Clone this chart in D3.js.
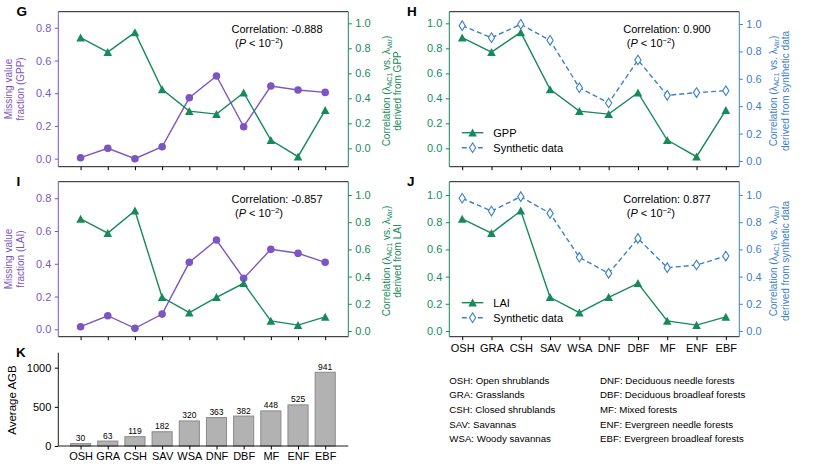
<!DOCTYPE html>
<html>
<head>
<meta charset="utf-8">
<script src="https://cdn.jsdelivr.net/npm/d3@7"></script>
<style>
  body { margin: 0; background: #fff; }
  svg { font-family: "Liberation Sans", Arial, sans-serif; }
</style>
</head>
<body>
<div id="graph"></div>
<script>
var w = 816, h = 472

var cats = ["OSH", "GRA", "CSH", "SAV", "WSA", "DNF", "DBF", "MF", "ENF", "EBF"]
var missGPP = [0.006, 0.063, 0.0, 0.073, 0.372, 0.505, 0.195, 0.444, 0.42, 0.405]
var corrGPP = [0.885, 0.77, 0.928, 0.472, 0.298, 0.274, 0.445, 0.066, -0.067, 0.306]
var synthGPP = [0.988, 0.90, 0.998, 0.881, 0.535, 0.423, 0.737, 0.479, 0.499, 0.513]
var missLAI = [0.016, 0.083, 0.006, 0.093, 0.409, 0.545, 0.311, 0.488, 0.464, 0.409]
var corrLAI = [0.824, 0.72, 0.884, 0.248, 0.135, 0.248, 0.351, 0.074, 0.043, 0.104]
var synthLAI = [0.976, 0.882, 0.988, 0.865, 0.542, 0.424, 0.681, 0.466, 0.485, 0.551]
var agb = [30, 63, 119, 182, 320, 363, 382, 448, 525, 941]
var legendLeft = ["OSH: Open shrublands", "GRA: Grasslands", "CSH: Closed shrublands", "SAV: Savannas", "WSA: Woody savannas"]
var legendRight = ["DNF: Deciduous needle forests", "DBF: Deciduous broadleaf forests", "MF: Mixed forests", "ENF: Evergreen needle forests", "EBF: Evergreen broadleaf forests"]

var purple = "#7d55c0", green = "#178a5b", blue = "#3c80c7"

var svg = d3.select('#graph')
  .html('')
  .append('svg')
  .attr("width", w)
  .attr("height", h)

var triPath = "M0,-4.2L4.3,3.8L-4.3,3.8Z"
var diaPath = "M0,-4.8L3.1,0L0,4.8L-3.1,0Z"

function marker(g, kind, color) {
  if (kind == 'circle') {
    g.append("circle").attr("r", 3.8).attr("fill", color)
  } else if (kind == 'tri') {
    g.append("path").attr("d", triPath).attr("fill", color)
  } else {
    g.append("path").attr("d", diaPath).attr("fill", "#fff")
      .attr("stroke", color).attr("stroke-width", 1.1)
  }
}

function series(x, y, vals, color, kind, dashed) {
  var line = d3.line().x((d, i) => x(i)).y(d => y(d))
  svg.append("path")
    .attr("d", line(vals))
    .attr("fill", "none")
    .attr("stroke", color)
    .attr("stroke-width", 1.4)
    .attr("stroke-dasharray", dashed ? "5,3" : null)
  vals.forEach(function(v, i) {
    var g = svg.append("g").attr("transform", "translate(" + x(i) + "," + y(v) + ")")
    marker(g, kind, color)
  })
}

function styleAxis(g, color) {
  g.selectAll("path").remove()
  g.selectAll("line").attr("stroke", color)
  g.selectAll("text").attr("fill", color).style("font-size", "11px")
}

function corrLabel(sub) {
  return function(t) {
    t.append("tspan").text("Correlation (λ")
    t.append("tspan").attr("dy", 2).style("font-size", "7px").text("AC1")
    t.append("tspan").attr("dy", -2).text(" vs. λ")
    t.append("tspan").attr("dy", 2).style("font-size", "7px").text("Var")
    t.append("tspan").attr("dy", -2).text(")")
  }
}

function vlabel(x, y, color, size, fill) {
  var t = svg.append("text")
    .attr("transform", "translate(" + x + "," + y + ") rotate(-90)")
    .attr("text-anchor", "middle")
    .attr("fill", color)
    .style("font-size", size + "px")
  if (typeof fill == 'function') fill(t); else t.text(fill)
  return t
}

// o: x0,x1,y0,y1,xdom,left,right,xlabels,corr
function panel(o) {
  var x = d3.scaleLinear().domain(o.xdom).range([o.x0, o.x1])
  var yl = d3.scaleLinear().domain(o.left.dom).range([o.y1, o.y0])
  var yr = d3.scaleLinear().domain(o.right.dom).range([o.y1, o.y0])

  var xa = svg.append("g").attr("transform", "translate(0," + o.y1 + ")")
    .call(d3.axisBottom(x).tickValues(d3.range(10)).tickSize(3.5).tickPadding(4)
      .tickFormat(i => o.xlabels ? cats[i] : ""))
  styleAxis(xa, "#000")

  var la = svg.append("g").attr("transform", "translate(" + o.x0 + ",0)")
    .call(d3.axisLeft(yl).tickValues(o.left.ticks).tickSize(3.5).tickPadding(3.5).tickFormat(d3.format(".1f")))
  styleAxis(la, o.left.color)
  var ra = svg.append("g").attr("transform", "translate(" + o.x1 + ",0)")
    .call(d3.axisRight(yr).tickValues(o.right.ticks).tickSize(3.5).tickPadding(3.5).tickFormat(d3.format(".1f")))
  styleAxis(ra, o.right.color)

  series(x, yl, o.left.vals, o.left.color, o.left.kind, o.left.dashed)
  series(x, yr, o.right.vals, o.right.color, o.right.kind, o.right.dashed)

  // frame
  svg.append("line").attr("x1", o.x0).attr("x2", o.x1).attr("y1", o.y0).attr("y2", o.y0).attr("stroke", "#000").attr("stroke-width", 0.9)
  svg.append("line").attr("x1", o.x0).attr("x2", o.x1).attr("y1", o.y1).attr("y2", o.y1).attr("stroke", "#000").attr("stroke-width", 0.9)
  svg.append("line").attr("x1", o.x0).attr("x2", o.x0).attr("y1", o.y0).attr("y2", o.y1).attr("stroke", o.left.color).attr("stroke-width", 1)
  svg.append("line").attr("x1", o.x1).attr("x2", o.x1).attr("y1", o.y0).attr("y2", o.y1).attr("stroke", o.right.color).attr("stroke-width", 1)

  // correlation note
  var cx = o.corrX
  svg.append("text").attr("x", cx).attr("y", o.y0 + 21.5).style("font-size", "11px").text(o.corr)
  var p = svg.append("text").attr("x", cx + 3.5).attr("y", o.y0 + 35.5).style("font-size", "11px")
  p.append("tspan").text("(")
  p.append("tspan").style("font-style", "italic").text("P")
  p.append("tspan").text(" < 10")
  p.append("tspan").attr("dy", -4.5).style("font-size", "7.5px").text("−2")
  p.append("tspan").attr("dy", 4.5).text(")")

  svg.append("text").attr("x", o.lx).attr("y", o.y0 + 4).style("font-size", "13.5px")
    .style("font-weight", "bold").text(o.letter)

  if (o.legend) {
    o.legend.forEach(function(d, i) {
      var ly = o.y0 + 121 + i * 15
      var lx = o.x0 + 12.5
      svg.append("line").attr("x1", lx).attr("x2", lx + 21.5).attr("y1", ly).attr("y2", ly)
        .attr("stroke", d.color).attr("stroke-width", 1.4).attr("stroke-dasharray", d.dashed ? "5,3" : null)
      marker(svg.append("g").attr("transform", "translate(" + (lx + 10.8) + "," + ly + ")"), d.kind, d.color)
      svg.append("text").attr("x", lx + 31.5).attr("y", ly + 4).style("font-size", "11px").text(d.name)
    })
  }
  return {x: x}
}

var t02 = [0, 0.2, 0.4, 0.6, 0.8]
var t10 = [0, 0.2, 0.4, 0.6, 0.8, 1.0]

// G
panel({x0: 58.3, x1: 348.3, y0: 11.7, y1: 166.7, xdom: [-0.82, 9.85], letter: "G", lx: 16.5,
  corr: "Correlation: -0.888", corrX: 231.5, xlabels: false,
  left: {dom: [-0.049, 0.898], ticks: t02, vals: missGPP, color: purple, kind: 'circle'},
  right: {dom: [-0.147, 1.093], ticks: t10, vals: corrGPP, color: green, kind: 'tri'}})
vlabel(12, 89, purple, 10, "Missing value")
vlabel(23.5, 89, purple, 10, "fraction (GPP)")
vlabel(390, 91, green, 10, corrLabel())
vlabel(401, 91, green, 10, "derived from GPP")

// H
panel({x0: 449.3, x1: 739.3, y0: 11.7, y1: 166.7, xdom: [-0.44, 9.46], letter: "H", lx: 407,
  corr: "Correlation: 0.900", corrX: 623.3, xlabels: false,
  left: {dom: [-0.147, 1.093], ticks: t10, vals: corrGPP, color: green, kind: 'tri'},
  right: {dom: [-0.042, 1.09], ticks: t10, vals: synthGPP, color: blue, kind: 'dia', dashed: true},
  legend: [{name: "GPP", color: green, kind: 'tri'}, {name: "Synthetic data", color: blue, kind: 'dia', dashed: true}]})
vlabel(777, 91, blue, 10, corrLabel())
vlabel(788.5, 91, blue, 10, "derived from synthetic data")

// I
panel({x0: 58.3, x1: 348.3, y0: 181.7, y1: 336.7, xdom: [-0.82, 9.85], letter: "I", lx: 16.5,
  corr: "Correlation: -0.857", corrX: 231.5, xlabels: false,
  left: {dom: [-0.045, 0.901], ticks: t02, vals: missLAI, color: purple, kind: 'circle'},
  right: {dom: [-0.042, 1.098], ticks: t10, vals: corrLAI, color: green, kind: 'tri'}})
vlabel(12, 259, purple, 10, "Missing value")
vlabel(23.5, 259, purple, 10, "fraction (LAI)")
vlabel(390, 261, green, 10, corrLabel())
vlabel(401, 261, green, 10, "derived from LAI")

// J
panel({x0: 449.3, x1: 739.3, y0: 181.7, y1: 336.7, xdom: [-0.44, 9.46], letter: "J", lx: 407,
  corr: "Correlation: 0.877", corrX: 623.3, xlabels: true,
  left: {dom: [-0.042, 1.098], ticks: t10, vals: corrLAI, color: green, kind: 'tri'},
  right: {dom: [-0.042, 1.098], ticks: t10, vals: synthLAI, color: blue, kind: 'dia', dashed: true},
  legend: [{name: "LAI", color: green, kind: 'tri'}, {name: "Synthetic data", color: blue, kind: 'dia', dashed: true}]})
vlabel(777, 261, blue, 10, corrLabel())
vlabel(788.5, 261, blue, 10, "derived from synthetic data")

// K bar chart
var kx = d3.scaleLinear().domain([-0.82, 9.85]).range([58.3, 348.3])
var ky = d3.scaleLinear().domain([0, 1191]).range([446, 352.7])
var bw = (kx(1) - kx(0)) * 0.74
svg.append("g").selectAll("rect").data(agb).enter().append("rect")
  .attr("x", (d, i) => kx(i) - bw / 2)
  .attr("y", d => ky(d))
  .attr("width", bw)
  .attr("height", d => ky(0) - ky(d))
  .attr("fill", "#b2b2b2")
  .attr("stroke", "#8a8a8a")
  .attr("stroke-width", 1)
svg.append("g").selectAll("text").data(agb).enter().append("text")
  .attr("x", (d, i) => kx(i))
  .attr("y", d => ky(d) - 2.5)
  .attr("text-anchor", "middle")
  .style("font-size", "8.5px")
  .text(d => d)
var kxa = svg.append("g").attr("transform", "translate(0,446)")
  .call(d3.axisBottom(kx).tickValues(d3.range(10)).tickSize(3.5).tickPadding(3).tickFormat(i => cats[i]))
styleAxis(kxa, "#000")
var kya = svg.append("g").attr("transform", "translate(58.3,0)")
  .call(d3.axisLeft(ky).tickValues([0, 500, 1000]).tickSize(3.5).tickPadding(3.5).tickFormat(d3.format("d")))
styleAxis(kya, "#000")
svg.append("line").attr("x1", 58.3).attr("x2", 348.3).attr("y1", 446).attr("y2", 446).attr("stroke", "#000").attr("stroke-width", 0.9)
svg.append("line").attr("x1", 58.3).attr("x2", 58.3).attr("y1", 352.7).attr("y2", 446).attr("stroke", "#000").attr("stroke-width", 0.9)
vlabel(15.5, 400, "#000", 11.5, "Average AGB")
svg.append("text").attr("x", 16).attr("y", 357).style("font-size", "13.5px").style("font-weight", "bold").text("K")

// abbreviations
legendLeft.forEach(function(d, i) {
  svg.append("text").attr("x", 449.3).attr("y", 383.5 + i * 14.7).style("font-size", "9.7px").text(d)
})
legendRight.forEach(function(d, i) {
  svg.append("text").attr("x", 600).attr("y", 383.5 + i * 14.7).style("font-size", "9.7px").text(d)
})
</script>
</body>
</html>
